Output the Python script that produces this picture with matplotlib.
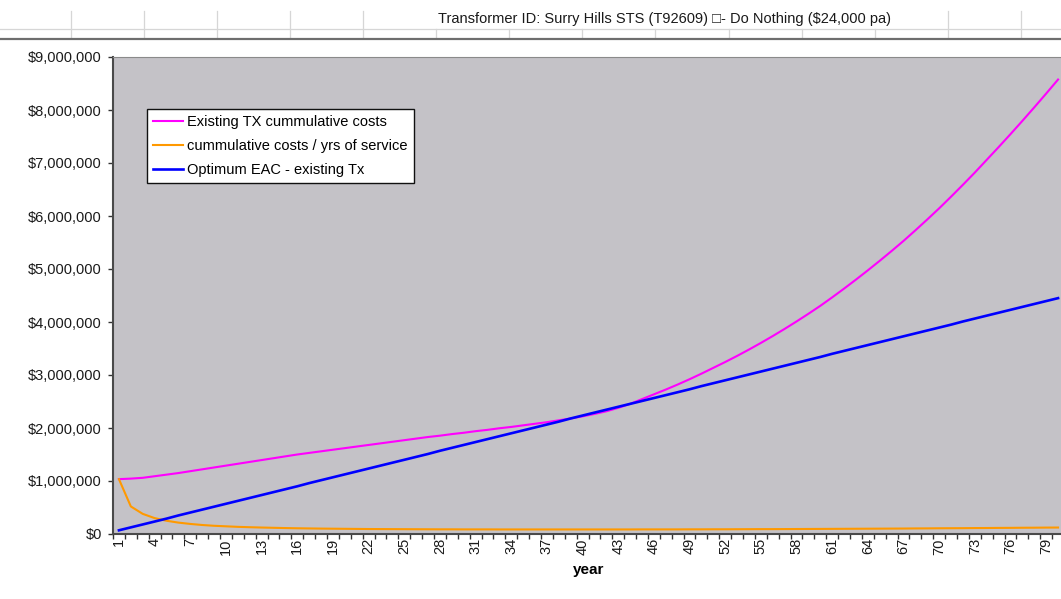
import numpy as np
import matplotlib
matplotlib.use('Agg')
import matplotlib.pyplot as plt
from matplotlib.ticker import FixedLocator, FuncFormatter, NullFormatter

plt.rcParams['font.family'] = ['Liberation Sans', 'DejaVu Sans']

# ── data ($ thousands) ─────────────────────────────────────────
years = list(range(1, 81))

existing_k = [
    1035, 1045, 1060, 1090, 1120, 1150, 1185, 1220, 1255, 1290,
    1325, 1360, 1395, 1430, 1465, 1500, 1530, 1560, 1590, 1620,
    1650, 1680, 1710, 1740, 1770, 1800, 1830, 1855, 1885, 1910,
    1940, 1965, 1995, 2020, 2050, 2080, 2110, 2145, 2180, 2220,
    2265, 2315, 2380, 2455, 2545, 2635, 2725, 2820, 2920, 3025,
    3135, 3245, 3360, 3480, 3605, 3735, 3870, 4010, 4155, 4305,
    4465, 4630, 4800, 4975, 5155, 5340, 5530, 5730, 5935, 6145,
    6365, 6590, 6820, 7060, 7300, 7545, 7795, 8050, 8310, 8575,
]

per_year_k = [
    1035, 520, 380, 300, 250, 215, 190, 170, 155, 145,
    135, 128, 122, 117, 112, 108, 105, 102, 100, 98,
    96, 94, 93, 92, 91, 90, 89, 88, 88, 87,
    87, 87, 86, 86, 86, 86, 86, 86, 86, 86,
    86, 86, 86, 86, 87, 87, 87, 87, 88, 88,
    89, 89, 90, 91, 92, 92, 93, 94, 95, 96,
    97, 98, 99, 100, 101, 102, 103, 105, 106, 108,
    109, 110, 112, 113, 115, 116, 118, 119, 121, 122,
]

eac_k = [
    70, 125, 180, 235, 290, 350, 405, 460, 515, 570,
    625, 680, 735, 790, 845, 900, 960, 1015, 1070, 1125,
    1180, 1235, 1290, 1345, 1400, 1455, 1510, 1570, 1625, 1680,
    1735, 1790, 1845, 1900, 1955, 2010, 2065, 2120, 2180, 2235,
    2290, 2345, 2400, 2455, 2510, 2565, 2620, 2675, 2730, 2790,
    2845, 2900, 2955, 3010, 3065, 3120, 3175, 3230, 3285, 3340,
    3400, 3455, 3510, 3565, 3620, 3675, 3730, 3785, 3840, 3895,
    3950, 4010, 4065, 4120, 4175, 4230, 4285, 4340, 4395, 4450,
]

series_names = ["Existing TX cummulative costs",
                "cummulative costs / yrs of service",
                "Optimum EAC - existing Tx"]
series_colors = ["#FF00FF", "#FF9900", "#0000FF"]
label_years = years[::3]
title = "Transformer ID: Surry Hills STS (T92609) \u25a1- Do Nothing ($24,000 pa)"

FS = 10.5
W, H = 1061, 599
fig = plt.figure(figsize=(W / 100, H / 100), dpi=100, facecolor="white")

# ── spreadsheet strip at the top (pixel coords) ───────────────
bg = fig.add_axes([0, 0, 1, 1], zorder=0)
bg.set_xlim(0, W)
bg.set_ylim(H, 0)
bg.axis("off")
grid_x = [71, 144, 217, 290, 363, 436, 509, 582, 655, 729, 802, 875, 948, 1021]
for gx in grid_x:
    top = 29 if 430 < gx < 900 else 11
    bg.plot([gx, gx], [top, 38], color="#D6D6D6", lw=0.9)
bg.plot([0, W], [29.3, 29.3], color="#D6D6D6", lw=0.9)
bg.plot([0, W], [38.8, 38.8], color="#6E6E6E", lw=1.6)
bg.text(438, 19.5, title, ha="left", va="center", fontsize=FS, color="#1a1a1a")

# ── chart ─────────────────────────────────────────────────────
ax = fig.add_axes([113 / W, 1 - 534 / H, 951 / W, 477 / H], zorder=1)
ax.set_facecolor("#C4C2C7")

x = np.array(years)
ax.plot(x, np.array(existing_k) * 1000, color=series_colors[0], lw=1.5,
        label=series_names[0])
ax.plot(x, np.array(per_year_k) * 1000, color=series_colors[1], lw=1.5,
        label=series_names[1])
ax.plot(x, np.array(eac_k) * 1000, color=series_colors[2], lw=1.9,
        label=series_names[2])

ax.set_xlim(0.5, 80.5)
ax.set_ylim(0, 9_000_000)
ax.yaxis.set_major_locator(FixedLocator(np.arange(0, 9_000_001, 1_000_000)))
ax.yaxis.set_major_formatter(FuncFormatter(lambda v, p: f"${v:,.0f}"))
ax.tick_params(axis="y", direction="out", length=3.6, width=1, color="#333333",
               pad=4.3, labelsize=FS, labelcolor="#1a1a1a")

# category ticks at boundaries, labels every third category
ax.xaxis.set_major_locator(FixedLocator(np.arange(0.5, 81, 1)))
ax.xaxis.set_major_formatter(NullFormatter())
ax.xaxis.set_minor_locator(FixedLocator(label_years))
ax.xaxis.set_minor_formatter(FuncFormatter(lambda v, p: f"{int(round(v))}"))
ax.tick_params(axis="x", which="major", direction="out", length=3.6, width=1,
               color="#333333")
ax.tick_params(axis="x", which="minor", length=0, pad=3, labelsize=FS,
               labelrotation=90, labelcolor="#1a1a1a")

for side in ["left", "bottom"]:
    ax.spines[side].set_color("#4a4a4a")
    ax.spines[side].set_linewidth(1.5)
ax.spines["top"].set_color("#8a8a8a")
ax.spines["top"].set_linewidth(0.8)
ax.spines["right"].set_visible(False)

ax.set_xlabel("year", fontsize=11, fontweight="bold", labelpad=6)

leg = ax.legend(loc="upper left", bbox_to_anchor=(147 / W, 1 - 109 / H),
                bbox_transform=fig.transFigure, borderaxespad=0,
                fancybox=False, framealpha=1, edgecolor="#111111",
                fontsize=FS, handlelength=2.05, handletextpad=0.28,
                borderpad=0.42, labelspacing=0.68)
leg.get_frame().set_linewidth(1.0)

fig.savefig("out.png", dpi=100, facecolor="white")
